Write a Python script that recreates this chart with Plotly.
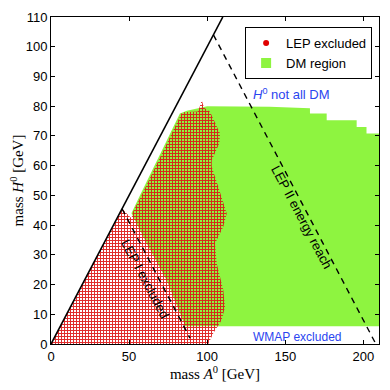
import plotly.graph_objects as go

# DM region boundary (mass A0, mass H0) in GeV
dm_x = [51.5, 61.3, 74.0, 82.6, 86.0, 210.0, 210.0, 202.0, 202.0, 195.7, 195.7,
        176.5, 176.5, 165.8, 165.8, 140.0, 100.0, 87.0, 82.5, 70.0, 57.0]
dm_y = [44.0, 33.8, 21.5, 10.3, 6.0, 6.0, 70.8, 70.8, 73.0, 73.0, 75.3,
        75.3, 77.5, 77.5, 79.3, 79.8, 80.0, 78.5, 77.5, 64.0, 50.0]

# LEP excluded region boundary
lep_x = [0.0, 45.5, 51.5, 52.5, 58.0, 71.0, 83.5, 84.5, 94.0, 95.0, 96.5, 98.0,
         101.8, 108.2, 107.8, 102.9, 102.9, 107.1, 112.5, 110.3, 105.0, 106.1,
         110.3, 111.4, 109.3, 103.9, 100.7]
lep_y = [0.0, 45.5, 42.3, 44.5, 50.0, 64.0, 77.5, 78.0, 78.2, 79.5, 82.0, 79.5,
         78.1, 70.8, 67.5, 61.8, 59.6, 52.9, 43.9, 39.4, 33.8, 27.1,
         18.2, 12.5, 8.1, 3.6, 0.0]

# reference lines
diag_x = [0, 110]
diag_y = [0, 110]
lep1_x = [45.5, 89.0]
lep1_y = [45.5, 2.0]
lep2_x = [104.0, 207.5]
lep2_y = [104.0, 0.5]

x_ticks = [0, 50, 100, 150, 200]
y_ticks = list(range(0, 111, 10))

green = '#8ef440'
red = '#e00000'
blue = '#2a45f0'
sans = 'Liberation Sans, Arial, sans-serif'
serif = 'Liberation Serif, DejaVu Serif, serif'

fig = go.Figure()

fig.add_trace(go.Scatter(
    x=dm_x, y=dm_y, mode='lines', fill='toself',
    fillcolor=green, line=dict(width=0), showlegend=False, hoverinfo='skip'))

fig.add_trace(go.Scatter(
    x=lep_x, y=lep_y, mode='lines', fill='toself',
    fillcolor='rgba(0,0,0,0)', line=dict(width=0),
    fillpattern=dict(shape='+', fgcolor='rgba(220,20,20,0.9)', bgcolor='rgba(0,0,0,0)',
                     size=3, solidity=0.55, fillmode='replace'),
    showlegend=False, hoverinfo='skip'))

fig.add_trace(go.Scatter(x=diag_x, y=diag_y, mode='lines',
                         line=dict(color='black', width=1.6), showlegend=False))
fig.add_trace(go.Scatter(x=lep1_x, y=lep1_y, mode='lines',
                         line=dict(color='black', width=1.4, dash='6px,5px'), showlegend=False))
fig.add_trace(go.Scatter(x=lep2_x, y=lep2_y, mode='lines',
                         line=dict(color='black', width=1.4, dash='6px,5px'), showlegend=False))

# legend entries
fig.add_trace(go.Scatter(x=[None], y=[None], mode='markers', name='LEP excluded',
                         marker=dict(color=red, size=6, symbol='circle')))
fig.add_trace(go.Scatter(x=[None], y=[None], mode='markers', name='DM region',
                         marker=dict(color=green, size=10, symbol='square')))

fig.add_annotation(x=60.2, y=22.1, text='LEP I excluded', textangle=62, showarrow=False,
                   font=dict(size=13, color='black', family=sans))
fig.add_annotation(x=160.5, y=42.5, text='LEP II energy reach', textangle=62, showarrow=False,
                   font=dict(size=13, color='black', family=sans))
fig.add_annotation(x=154.0, y=84.0, text='<i>H</i><sup>0</sup> not all DM', showarrow=False,
                   font=dict(size=13, color=blue, family=sans))
fig.add_annotation(x=157.8, y=2.5, text='WMAP excluded', showarrow=False,
                   font=dict(size=12, color=blue, family=sans))

axis_style = dict(showline=True, linecolor='black', linewidth=1, mirror='allticks',
                  ticks='inside', ticklen=4, tickcolor='black', showgrid=False,
                  zeroline=False, automargin=False,
                  tickfont=dict(size=13, family=sans, color='black'))

fig.update_xaxes(range=[0, 210], tickvals=x_ticks, **axis_style,
                 title=dict(text='mass <i>A</i><sup>0</sup> [GeV]', standoff=4,
                            font=dict(size=15, family=serif, color='black')))
fig.update_yaxes(range=[0, 110], tickvals=y_ticks, **axis_style,
                 title=dict(text='mass <i>H</i><sup>0</sup> [GeV]', standoff=0,
                            font=dict(size=15, family=serif, color='black')))

# page body adds an 8px offset, so the figure is trimmed to compensate
fig.update_layout(
    width=382, height=382,
    margin=dict(l=43, r=11, t=9, b=46),
    plot_bgcolor='white', paper_bgcolor='white',
    legend=dict(x=0.979, y=0.969, xanchor='right', yanchor='top',
                bordercolor='black', borderwidth=1, bgcolor='white',
                font=dict(size=13, family=sans, color='black'),
                tracegroupgap=0),
)

fig.write_html("out.html")
